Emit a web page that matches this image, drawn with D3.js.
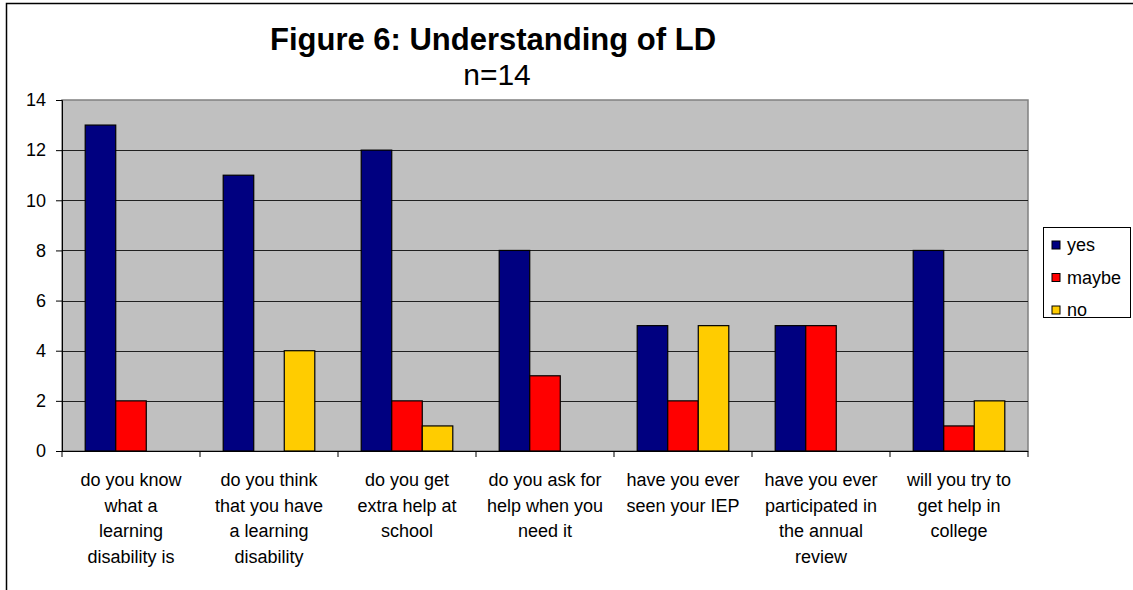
<!DOCTYPE html>
<html>
<head>
<meta charset="utf-8">
<script src="https://cdn.jsdelivr.net/npm/d3@7"></script>
<style>
    body { margin: 0; background: #fff; }
    svg { display: block; font-family: Arial, "Liberation Sans", sans-serif; }
</style>
</head>
<body>
<div id="chart"></div>
<script>
// chart data
const categories = [
    ["do you know", "what a", "learning", "disability is"],
    ["do you think", "that you have", "a learning", "disability"],
    ["do you get", "extra help at", "school"],
    ["do you ask for", "help when you", "need it"],
    ["have you ever", "seen your IEP"],
    ["have you ever", "participated in", "the annual", "review"],
    ["will you try to", "get help in", "college"]
];
const seriesNames = ["yes", "maybe", "no"];
const seriesColors = ["#000080", "#ff0000", "#ffcc00"];
const yesValues = [13, 11, 12, 8, 5, 5, 8];
const maybeValues = [2, 0, 2, 3, 2, 5, 1];
const noValues = [0, 4, 1, 0, 5, 0, 2];
const yTicks = [0, 2, 4, 6, 8, 10, 12, 14];

const values = [yesValues, maybeValues, noValues];

const width = 1133, height = 590;
const plot = { left: 62, right: 1028, top: 100, bottom: 451 };

const svg = d3.select("#chart").append("svg")
    .attr("width", width)
    .attr("height", height);

// outer chart border (runs off the right and bottom edges)
svg.append("rect")
    .attr("x", 6.5).attr("y", 3.5)
    .attr("width", width + 10).attr("height", height + 10)
    .attr("fill", "#fff")
    .attr("stroke", "#000")
    .attr("stroke-width", 1.5);

// title
svg.append("text")
    .attr("x", 493).attr("y", 50)
    .attr("text-anchor", "middle")
    .attr("font-size", 31)
    .attr("font-weight", "bold")
    .text("Figure 6: Understanding of LD");
svg.append("text")
    .attr("x", 497).attr("y", 85)
    .attr("text-anchor", "middle")
    .attr("font-size", 30)
    .text("n=14");

// scales
const xScale = d3.scaleBand()
    .domain(d3.range(categories.length))
    .range([plot.left, plot.right]);
const xInner = d3.scaleBand()
    .domain(seriesNames)
    .range([0, xScale.bandwidth()])
    .paddingOuter(0.76);
const yScale = d3.scaleLinear([0, 14], [plot.bottom, plot.top]);

// plot background
svg.append("rect")
    .attr("x", plot.left).attr("y", plot.top)
    .attr("width", plot.right - plot.left)
    .attr("height", plot.bottom - plot.top)
    .attr("fill", "#c0c0c0")
    .attr("stroke", "#808080")
    .attr("stroke-width", 1.5);

// gridlines
svg.append("g")
    .selectAll("line")
    .data(yTicks.filter(d => d > 0 && d < 14))
    .join("line")
    .attr("x1", plot.left).attr("x2", plot.right)
    .attr("y1", d => Math.round(yScale(d)) + 0.5)
    .attr("y2", d => Math.round(yScale(d)) + 0.5)
    .attr("stroke", "#202020")
    .attr("stroke-width", 1);

// bars
const groups = svg.append("g")
    .selectAll("g")
    .data(categories.map((_, i) => i))
    .join("g")
    .attr("transform", i => `translate(${xScale(i)},0)`);

groups.selectAll("rect")
    .data(i => seriesNames.map((s, k) => ({ s, k, v: values[k][i] })).filter(d => d.v > 0))
    .join("rect")
    .attr("x", d => xInner(d.s))
    .attr("width", xInner.bandwidth())
    .attr("y", d => yScale(d.v))
    .attr("height", d => yScale(0) - yScale(d.v))
    .attr("fill", d => seriesColors[d.k])
    .attr("stroke", "#000")
    .attr("stroke-width", 1.2);

// y axis
const yAxis = svg.append("g")
    .attr("transform", `translate(${plot.left},0)`)
    .call(d3.axisLeft(yScale).tickValues(yTicks).tickSize(6).tickPadding(10).tickFormat(d3.format("d")));
yAxis.select(".domain").attr("stroke", "#000");
yAxis.selectAll("text").attr("font-size", 18).attr("font-family", "Arial, 'Liberation Sans', sans-serif").attr("fill", "#000");

// x axis baseline and ticks between categories
svg.append("line")
    .attr("x1", plot.left).attr("x2", plot.right)
    .attr("y1", plot.bottom + 0.5).attr("y2", plot.bottom + 0.5)
    .attr("stroke", "#000");
svg.append("g")
    .selectAll("line")
    .data(d3.range(categories.length + 1))
    .join("line")
    .attr("x1", i => i < categories.length ? xScale(i) : plot.right)
    .attr("x2", i => i < categories.length ? xScale(i) : plot.right)
    .attr("y1", plot.bottom)
    .attr("y2", plot.bottom + 6)
    .attr("stroke", "#000");

// category labels
const labels = svg.append("g")
    .selectAll("text")
    .data(categories)
    .join("text")
    .attr("text-anchor", "middle")
    .attr("font-size", 18)
    .attr("x", (_, i) => xScale(i) + xScale.bandwidth() / 2)
    .attr("y", 486);
labels.selectAll("tspan")
    .data(d => d)
    .join("tspan")
    .attr("x", function () { return this.parentNode.getAttribute("x"); })
    .attr("dy", (_, j) => j === 0 ? 0 : 25.7)
    .text(d => d);

// legend
const legend = svg.append("g");
legend.append("rect")
    .attr("x", 1043.5).attr("y", 227.5)
    .attr("width", 87).attr("height", 90)
    .attr("fill", "#fff")
    .attr("stroke", "#000");
const items = legend.selectAll("g")
    .data(seriesNames)
    .join("g")
    .attr("transform", (_, k) => `translate(1052,${245 + k * 32.5})`);
items.append("rect")
    .attr("x", 0).attr("y", -4)
    .attr("width", 8).attr("height", 8)
    .attr("fill", (_, k) => seriesColors[k])
    .attr("stroke", "#000");
items.append("text")
    .attr("x", 15).attr("y", 0)
    .attr("dy", "0.35em")
    .attr("font-size", 18)
    .text(d => d);
</script>
</body>
</html>
